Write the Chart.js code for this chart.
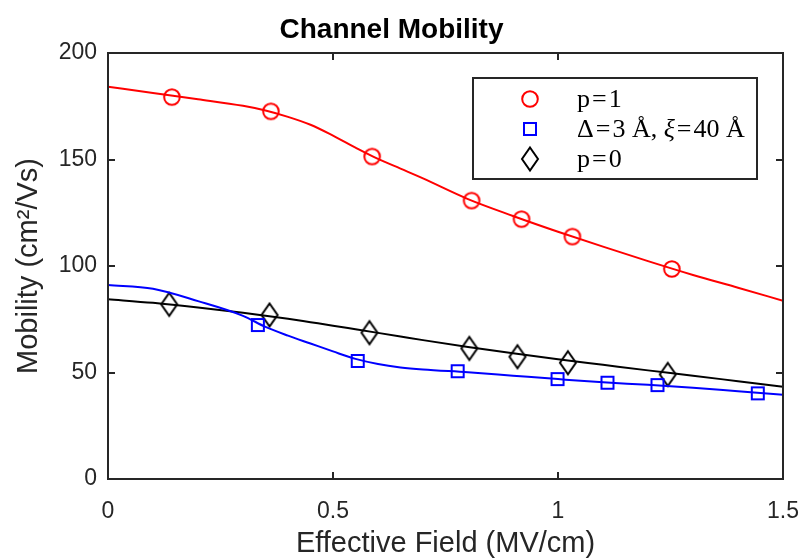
<!DOCTYPE html>
<html>
<head>
<meta charset="utf-8">
<script src="https://cdn.jsdelivr.net/npm/chart.js@4/dist/chart.umd.min.js"></script>
<style>
  html, body { margin: 0; padding: 0; background: #ffffff; }
  #wrap { width: 802px; height: 558px; }
</style>
</head>
<body>
<div id="wrap"><canvas id="c" width="802" height="558"></canvas></div>
<script>
// ---- labels ----
const chartTitle = 'Channel Mobility';
const xAxisTitle = 'Effective Field (MV/cm)';
const yAxisTitle = 'Mobility (cm²/Vs)';
const xTicks = [0, 0.5, 1, 1.5];
const yTicks = [0, 50, 100, 150, 200];
const seriesNames = ['p=1', 'Δ=3 Å, ξ=40 Å', 'p=0'];

// ---- measured mobility (markers) ----
const p1X = [0.142, 0.362, 0.587, 0.808, 0.919, 1.032, 1.253];
const p1Y = [179.3, 172.6, 151.4, 130.7, 122.0, 113.8, 98.6];
const roughX = [0.333, 0.555, 0.777, 0.999, 1.110, 1.221, 1.444];
const roughY = [72.3, 55.4, 50.6, 46.9, 45.2, 44.1, 40.2];
const p0X = [0.136, 0.359, 0.581, 0.803, 0.910, 1.022, 1.244];
const p0Y = [82.0, 77.0, 68.7, 61.3, 57.4, 54.6, 49.1];

// ---- model curves (solid lines) ----
const fitX     = [0, 0.1, 0.2, 0.3, 0.35, 0.4, 0.45, 0.5, 0.55, 0.6, 0.65, 0.7, 0.8, 0.9, 1.0, 1.1, 1.2, 1.3, 1.4, 1.5];
const fitP1    = [184.2, 181.2, 178.3, 175.2, 173.0, 170.0, 166.3, 161.2, 155.6, 150.3, 145.7, 141.1, 131.4, 123.5, 116.1, 109.1, 102.3, 95.8, 89.8, 83.7];
const fitRough = [91.1, 89.3, 83.5, 76.6, 71.4, 67.3, 63.6, 59.9, 56.4, 54.0, 52.4, 51.4, 50.1, 48.5, 46.9, 45.4, 44.2, 42.8, 41.2, 39.6];
const fitP0    = [84.4, 82.7, 80.5, 78.0, 76.6, 75.2, 73.6, 72.0, 70.3, 68.6, 66.9, 65.2, 62.0, 59.0, 56.2, 53.6, 51.0, 48.5, 45.9, 43.3];

const RED = '#ff0000', BLUE = '#0000ff', BLACK = '#000000', AXIS = '#262626';
const SANS = '"Liberation Sans", Arial, sans-serif';
const SERIF = '"Liberation Serif", "Times New Roman", serif';

function pts(xs, ys) { return xs.map((x, i) => ({ x: x, y: ys[i] })); }

// open marker glyphs
function makeMarker(w, h, color, draw) {
  const cv = document.createElement('canvas');
  cv.width = w; cv.height = h;
  const g = cv.getContext('2d');
  g.strokeStyle = color; g.lineWidth = 2;
  g.beginPath(); draw(g); g.stroke();
  return cv;
}
const circleMark = makeMarker(20, 20, RED, g => g.arc(10, 10, 7.8, 0, Math.PI * 2));
const squareMark = makeMarker(16, 16, BLUE, g => g.rect(2, 2, 12, 12));
const diamondMark = makeMarker(22, 28, BLACK, g => {
  g.moveTo(11, 2.5); g.lineTo(19, 14); g.lineTo(11, 25.5); g.lineTo(3, 14); g.closePath();
});
const legendMarks = [circleMark, squareMark, diamondMark];

function curve(data, color) {
  return { data: data, showLine: true, borderColor: color, borderWidth: 2,
           pointRadius: 0, cubicInterpolationMode: 'monotone', fill: false };
}
function markers(data, glyph) {
  return { data: data, showLine: false, pointStyle: glyph, pointRadius: 8 };
}

// frame, inward ticks and boxed legend
const framePlugin = {
  id: 'frame',
  afterDraw(chart) {
    const { ctx, chartArea: a, scales } = chart;
    ctx.save();
    ctx.strokeStyle = AXIS;
    ctx.lineWidth = 2;
    ctx.strokeRect(a.left, a.top, a.right - a.left, a.bottom - a.top);
    const tl = 7;
    ctx.beginPath();
    xTicks.forEach(v => {
      const px = Math.round(scales.x.getPixelForValue(v));
      if (px <= a.left + 1 || px >= a.right - 1) return;
      ctx.moveTo(px, a.bottom); ctx.lineTo(px, a.bottom - tl);
      ctx.moveTo(px, a.top); ctx.lineTo(px, a.top + tl);
    });
    yTicks.forEach(v => {
      const py = Math.round(scales.y.getPixelForValue(v));
      if (py <= a.top + 1 || py >= a.bottom - 1) return;
      ctx.moveTo(a.left, py); ctx.lineTo(a.left + tl, py);
      ctx.moveTo(a.right, py); ctx.lineTo(a.right - tl, py);
    });
    ctx.stroke();

    // legend box
    const bx = 473, by = 78, bw = 284, bh = 101;
    ctx.fillStyle = '#ffffff';
    ctx.fillRect(bx, by, bw, bh);
    ctx.strokeStyle = AXIS;
    ctx.lineWidth = 2;
    ctx.strokeRect(bx, by, bw, bh);
    const rows = [99, 129, 159];
    ctx.fillStyle = BLACK;
    ctx.textBaseline = 'middle';
    seriesNames.forEach((name, i) => {
      const m = legendMarks[i];
      ctx.drawImage(m, 530 - m.width / 2, rows[i] - m.height / 2);
      let x = 577;
      for (const ch of name) {
        const italic = ch === 'ξ';
        ctx.font = (italic ? 'italic ' : '') + '26px ' + SERIF;
        if (ch === '=') x += 2;
        ctx.fillText(ch, x, rows[i] + 1);
        x += ctx.measureText(ch).width;
        if (ch === '=') x += 2;
      }
    });
    ctx.restore();
  }
};

new Chart(document.getElementById('c'), {
  type: 'scatter',
  data: {
    datasets: [
      curve(pts(fitX, fitP1), RED),
      curve(pts(fitX, fitRough), BLUE),
      curve(pts(fitX, fitP0), BLACK),
      markers(pts(p1X, p1Y), circleMark),
      markers(pts(roughX, roughY), squareMark),
      markers(pts(p0X, p0Y), diamondMark)
    ]
  },
  options: {
    responsive: false,
    animation: false,
    devicePixelRatio: 1,
    layout: { padding: { top: 0, right: 19, bottom: 0, left: 0 } },
    plugins: {
      legend: { display: false },
      tooltip: { enabled: false },
      title: {
        display: true, text: chartTitle, color: BLACK,
        font: { family: SANS, size: 28, weight: 'bold', lineHeight: 1.2 },
        padding: { top: 13, bottom: 6.4 }
      }
    },
    scales: {
      x: {
        type: 'linear', min: 0, max: 1.5,
        afterBuildTicks: s => { s.ticks = xTicks.map(v => ({ value: v })); },
        afterFit: s => { s.height = 79; s.paddingRight = 0; s.paddingLeft = 0; },
        grid: { display: false, drawTicks: false },
        border: { display: false },
        ticks: { color: AXIS, padding: 19, font: { family: SANS, size: 23 },
                 callback: v => String(v) },
        title: { display: true, text: xAxisTitle, color: AXIS,
                 font: { family: SANS, size: 29, lineHeight: 1.0 },
                 padding: { top: 0, bottom: 0 } }
      },
      y: {
        type: 'linear', min: 0, max: 200,
        afterBuildTicks: s => { s.ticks = yTicks.map(v => ({ value: v })); },
        afterFit: s => { s.width = 108; s.paddingTop = 0; s.paddingBottom = 0; },
        grid: { display: false, drawTicks: false },
        border: { display: false },
        ticks: { color: AXIS, padding: 11, font: { family: SANS, size: 23 } },
        title: { display: true, text: yAxisTitle, color: AXIS,
                 font: { family: SANS, size: 29, lineHeight: 1.2 },
                 padding: { top: 12, bottom: 0 } }
      }
    }
  },
  plugins: [framePlugin]
});
</script>
</body>
</html>
